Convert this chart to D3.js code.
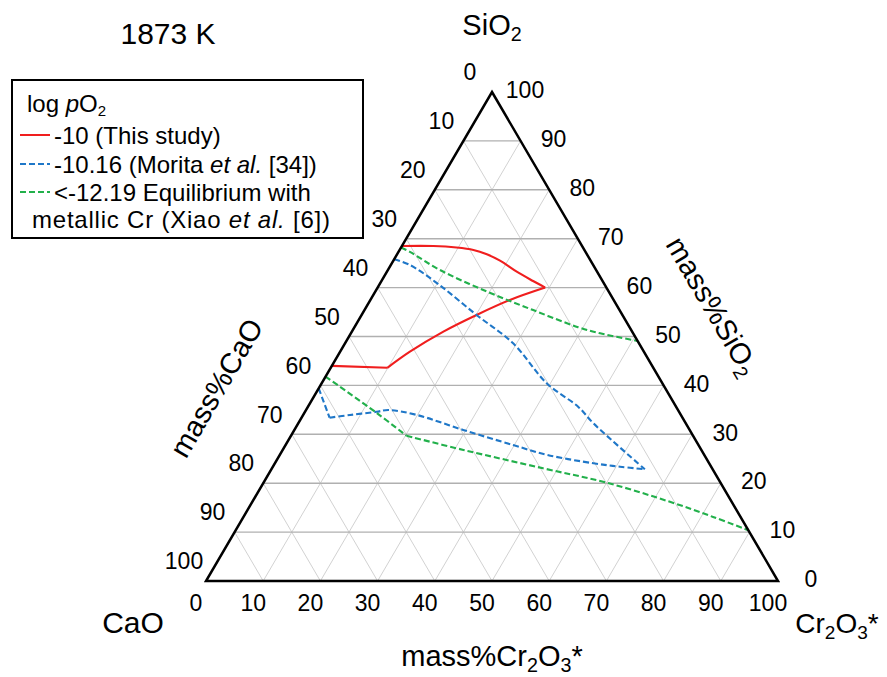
<!DOCTYPE html>
<html>
<head>
<meta charset="utf-8">
<script src="https://cdn.jsdelivr.net/npm/d3@7"></script>
<style>
  html, body { margin: 0; padding: 0; background: #fff; }
  svg { display: block; }
  text { font-family: "Liberation Sans", Arial, Helvetica, sans-serif; fill: #000; }
</style>
</head>
<body>
<svg id="chart" width="887" height="677"></svg>
<script>
// ---- Data: points given as [mass% SiO2, mass% Cr2O3*]; CaO = 100 - SiO2 - Cr2O3 ----
const gridValues = [10, 20, 30, 40, 50, 60, 70, 80, 90];
const tickValues = [0, 10, 20, 30, 40, 50, 60, 70, 80, 90, 100];

// log pO2 = -10 (This study) - three pieces (corners at the apex and at the lower bend)
const redUpper = [[68.5, 0], [68.5, 5.5], [68.2, 9.7], [67.7, 12.9], [66.8, 15.7], [65.5, 18.65], [63.25, 22.7], [61.35, 26.5], [60.0, 29.3]];
const redLower = [[60.0, 29.3], [57.46, 24.4], [54.4, 20.1], [51.0, 16.0], [46.9, 12.2], [43.6, 9.9]];
const redEnd   = [[43.6, 9.9], [44.0, 0]];

// log pO2 = -10.16 (Morita et al.)
const blueUpper = [[65.8, 0], [64.6, 3.4], [60.5, 10.6], [54.4, 20.1], [48.6, 29.4], [40.4, 39.4], [35.6, 47.3], [32.25, 51.6], [22.85, 65.3]];
const blueLowerStart = [[39.4, 0], [33.4, 4.9]];
const blueLower = [[33.4, 4.9], [33.95, 8.2], [34.6, 12.5], [34.97, 14.4], [33.95, 19.9], [30.9, 29.5], [27.8, 39.8], [25.8, 46.7], [24.07, 55.7], [23.37, 60.7], [22.85, 65.3]];

// log pO2 < -12.19 equilibrium with metallic Cr (Xiao et al.)
const greenUpper = [[68.2, 0], [67.3, 2.0], [63.6, 9.1], [59.2, 19.5], [55.4, 29.5], [51.9, 39.1], [50.65, 43.6], [49.1, 50.9]];
const greenLowerA = [[41.8, 0], [34.4, 12.6], [29.7, 20.2]];
const greenLowerB = [[29.7, 20.2], [26.8, 31.6], [23.05, 47.4], [20.1, 60.0], [16.2, 73.0], [13.1, 82.1], [10.4, 89.6]];

const legendLabels = ["-10 (This study)", "-10.16 (Morita et al. [34])", "<-12.19 Equilibrium with", "metallic Cr (Xiao et al. [6])"];

// ---- Layout ----
const svg = d3.select("#chart");
const xs = d3.scaleLinear().domain([0, 100]).range([206, 778]);  // horizontal: Cr2O3 + SiO2/2
const ys = d3.scaleLinear().domain([0, 100]).range([581, 92]);   // vertical: SiO2
const px = (si, cr) => xs(cr + si / 2);
const py = (si) => ys(si);

const colors = { red: "#f01e1e", blue: "#1f77c8", green: "#22b04b" };

// ---- Grid ----
const grid = svg.append("g");
grid.selectAll("line.ca").data(gridValues).enter().append("line")
  .attr("x1", c => px(100 - c, 0)).attr("y1", c => py(100 - c))
  .attr("x2", c => px(0, 100 - c)).attr("y2", py(0))
  .attr("stroke", "#d2d2d2").attr("stroke-width", 1);
grid.selectAll("line.cr").data(gridValues).enter().append("line")
  .attr("x1", c => px(0, c)).attr("y1", py(0))
  .attr("x2", c => px(100 - c, c)).attr("y2", c => py(100 - c))
  .attr("stroke", "#d2d2d2").attr("stroke-width", 1);
grid.selectAll("line.si").data(gridValues).enter().append("line")
  .attr("x1", s => px(s, 0)).attr("y1", s => py(s))
  .attr("x2", s => px(s, 100 - s)).attr("y2", s => py(s))
  .attr("stroke", "#b0b0b0").attr("stroke-width", 1.4);

// ---- Curves ----
const line = d3.line().x(d => px(d[0], d[1])).y(d => py(d[0])).curve(d3.curveCatmullRom.alpha(0.5));
const curves = [
  { pts: redUpper, c: colors.red, dash: null },
  { pts: redLower, c: colors.red, dash: null },
  { pts: redEnd, c: colors.red, dash: null },
  { pts: blueUpper, c: colors.blue, dash: "6,3" },
  { pts: blueLowerStart, c: colors.blue, dash: "6,3" },
  { pts: blueLower, c: colors.blue, dash: "6,3" },
  { pts: greenUpper, c: colors.green, dash: "6,3" },
  { pts: greenLowerA, c: colors.green, dash: "6,3" },
  { pts: greenLowerB, c: colors.green, dash: "6,3" }
];
svg.append("g").selectAll("path").data(curves).enter().append("path")
  .attr("d", d => line(d.pts))
  .attr("fill", "none").attr("stroke", d => d.c).attr("stroke-width", 2.1)
  .attr("stroke-dasharray", d => d.dash).attr("stroke-linejoin", "round");

// ---- Triangle outline ----
const tri = [[100, 0], [0, 100], [0, 0]];
svg.append("path")
  .attr("d", d3.line().x(d => px(d[0], d[1])).y(d => py(d[0])).curve(d3.curveLinearClosed)(tri))
  .attr("fill", "none").attr("stroke", "#000").attr("stroke-width", 2.5).attr("stroke-linejoin", "miter");

// ---- Tick labels ----
const tickG = svg.append("g").attr("font-size", 23).attr("text-anchor", "middle");
tickG.selectAll("text.l").data(tickValues).enter().append("text")
  .attr("x", c => px(100 - c, 0) - 22).attr("y", c => py(100 - c) - 20).attr("dy", "0.36em")
  .text(d => d);
tickG.selectAll("text.r").data(tickValues).enter().append("text")
  .attr("x", s => px(s, 100 - s) + 33).attr("y", s => py(s) - 2).attr("dy", "0.36em")
  .text(d => d);
tickG.selectAll("text.b").data(tickValues).enter().append("text")
  .attr("x", c => px(0, c) - 10).attr("y", 603).attr("dy", "0.36em")
  .text(d => d);

// ---- Titles ----
function sub(t, parts, size) {
  parts.forEach(p => {
    const ts = t.append("tspan").text(p.t);
    if (p.sub) ts.attr("font-size", size * 0.68).attr("dy", size * 0.22);
    else if (p.after) ts.attr("dy", -size * 0.22);
    if (p.italic) ts.attr("font-style", "italic");
  });
}
svg.append("text").attr("x", 168).attr("y", 44).attr("font-size", 30).attr("text-anchor", "middle").text("1873 K");

let t = svg.append("text").attr("x", 492).attr("y", 35).attr("font-size", 29).attr("text-anchor", "middle");
sub(t, [{ t: "SiO" }, { t: "2", sub: true }], 29);

svg.append("text").attr("x", 133).attr("y", 633).attr("font-size", 30).attr("text-anchor", "middle").text("CaO");

t = svg.append("text").attr("x", 837).attr("y", 633).attr("font-size", 28).attr("text-anchor", "middle");
sub(t, [{ t: "Cr" }, { t: "2", sub: true }, { t: "O", after: true }, { t: "3", sub: true }, { t: "*", after: true }], 28);

t = svg.append("text").attr("x", 492).attr("y", 666).attr("font-size", 29).attr("text-anchor", "middle");
sub(t, [{ t: "mass%Cr" }, { t: "2", sub: true }, { t: "O", after: true }, { t: "3", sub: true }, { t: "*", after: true }], 29);

const ang = Math.atan2(ys(0) - ys(100), xs(50) - xs(0)) * 180 / Math.PI;
svg.append("text").attr("font-size", 29).attr("text-anchor", "middle")
  .attr("transform", `translate(225,393) rotate(${-ang})`).text("mass%CaO");
t = svg.append("text").attr("font-size", 29).attr("text-anchor", "middle")
  .attr("transform", `translate(704,311) rotate(${ang})`);
sub(t, [{ t: "mass%SiO" }, { t: "2", sub: true }], 29);

// ---- Legend ----
const lg = svg.append("g");
lg.append("rect").attr("x", 12).attr("y", 80).attr("width", 351).attr("height", 158)
  .attr("fill", "#fff").attr("stroke", "#000").attr("stroke-width", 2);
t = lg.append("text").attr("x", 27).attr("y", 112).attr("font-size", 24);
t.append("tspan").text("log ");
t.append("tspan").attr("font-style", "italic").text("p");
t.append("tspan").text("O");
t.append("tspan").attr("font-size", 15).attr("dy", 4).text("2");

const legendItems = [
  { c: colors.red, dash: null, y: 135, parts: [{ t: legendLabels[0] }] },
  { c: colors.blue, dash: "6,3", y: 164, parts: [{ t: "-10.16 (Morita " }, { t: "et al.", italic: true }, { t: " [34])" }] },
  { c: colors.green, dash: "6,3", y: 192, parts: [{ t: legendLabels[2] }] }
];
legendItems.forEach(it => {
  lg.append("line").attr("x1", 20).attr("x2", 50).attr("y1", it.y).attr("y2", it.y)
    .attr("stroke", it.c).attr("stroke-width", 2).attr("stroke-dasharray", it.dash);
  const tx = lg.append("text").attr("x", 54).attr("y", it.y + 9).attr("font-size", 24);
  it.parts.forEach(p => { const s = tx.append("tspan").text(p.t); if (p.italic) s.attr("font-style", "italic"); });
});
const tx5 = lg.append("text").attr("x", 32).attr("y", 228).attr("font-size", 24)
  .attr("textLength", 298).attr("lengthAdjust", "spacing");
tx5.append("tspan").text("metallic Cr (Xiao ");
tx5.append("tspan").attr("font-style", "italic").text("et al.");
tx5.append("tspan").text(" [6])");
</script>
</body>
</html>
